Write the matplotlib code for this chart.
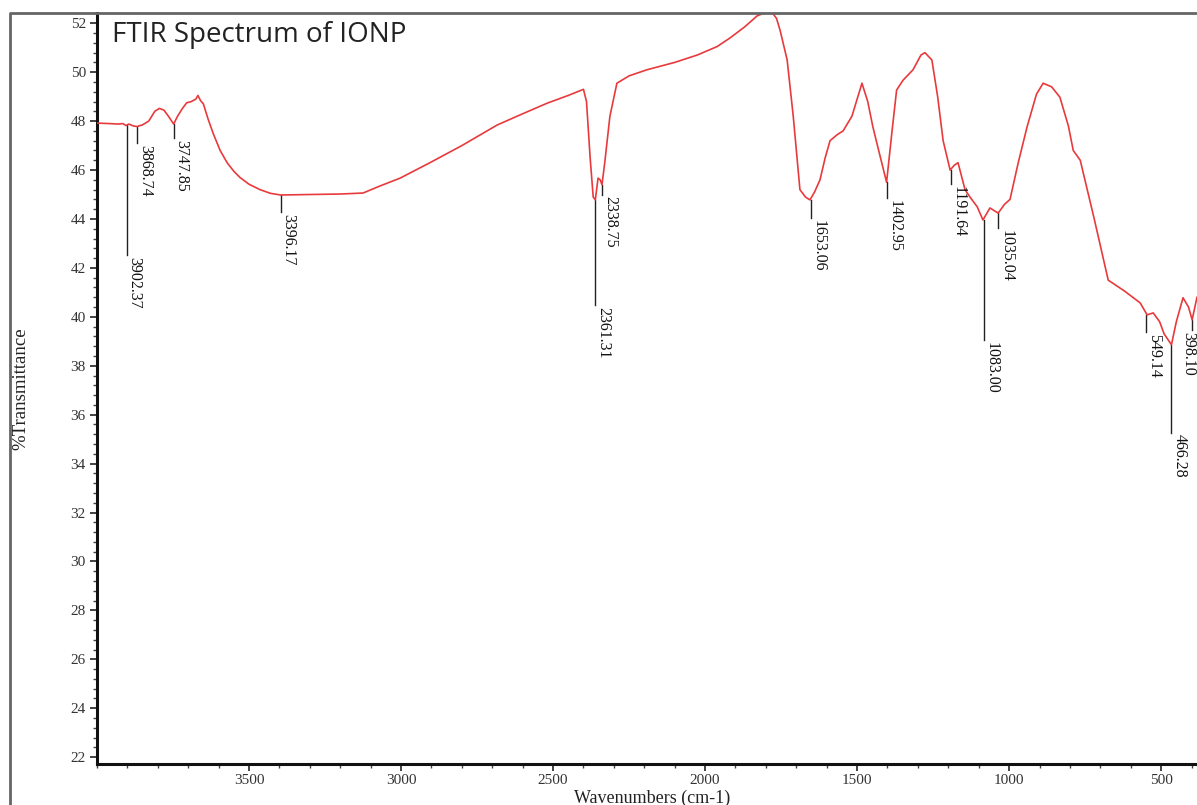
import matplotlib
matplotlib.use("Agg")
import matplotlib.pyplot as plt
from matplotlib.ticker import MultipleLocator
from matplotlib.lines import Line2D
from matplotlib.transforms import offset_copy

# ---- data ----
wavenumber = [4000, 3960, 3930, 3915, 3905, 3895, 3880, 3868, 3850, 3830, 3810, 3795,
              3780, 3765, 3748, 3735, 3720, 3705, 3690, 3675, 3668, 3660, 3650, 3635,
              3618, 3595, 3572, 3550, 3530, 3500, 3464, 3430, 3396, 3300, 3200, 3125,
              3069, 3003, 2905, 2800, 2684, 2600, 2520, 2450, 2400, 2390, 2378, 2368,
              2361, 2352, 2345, 2339, 2330, 2313, 2290, 2250, 2191, 2100, 2026, 1960,
              1918, 1870, 1829, 1800, 1780, 1765, 1753, 1730, 1710, 1688, 1670, 1655,
              1640, 1622, 1605, 1589, 1565, 1546, 1517, 1484, 1465, 1448, 1425, 1403,
              1385, 1370, 1349, 1316, 1290, 1277, 1254, 1235, 1217, 1194, 1180, 1168,
              1145, 1129, 1105, 1086, 1063, 1036, 1015, 997, 970, 941, 910, 888, 860,
              833, 805, 789, 766, 720, 674, 620, 569, 546, 526, 505, 490, 466, 450,
              428, 410, 398, 382]
transmittance = [47.92, 47.9, 47.88, 47.9, 47.82, 47.88, 47.8, 47.78, 47.85, 48.0, 48.4, 48.52,
                 48.45, 48.2, 47.88, 48.2, 48.5, 48.75, 48.8, 48.9, 49.05, 48.85, 48.7, 48.1,
                 47.5, 46.8, 46.3, 45.95, 45.7, 45.42, 45.2, 45.05, 44.98, 45.0, 45.02, 45.06,
                 45.35, 45.67, 46.3, 47.0, 47.84, 48.3, 48.73, 49.05, 49.3, 48.8, 46.5, 44.9,
                 44.78, 45.67, 45.6, 45.4, 46.3, 48.2, 49.55, 49.85, 50.1, 50.4, 50.7, 51.05,
                 51.4, 51.85, 52.3, 52.45, 52.45, 52.2, 51.7, 50.5, 48.2, 45.2, 44.9, 44.78,
                 45.1, 45.6, 46.5, 47.2, 47.45, 47.6, 48.2, 49.55, 48.8, 47.76, 46.6, 45.5,
                 47.6, 49.27, 49.67, 50.1, 50.7, 50.8, 50.5, 49.0, 47.2, 46.0, 46.2, 46.3,
                 45.2, 44.9, 44.5, 43.96, 44.45, 44.24, 44.6, 44.8, 46.3, 47.76, 49.1, 49.55, 49.4,
                 48.98, 47.8, 46.8, 46.4, 44.0, 41.5, 41.05, 40.57, 40.08, 40.16, 39.8, 39.3, 38.86, 39.8,
                 40.78, 40.4, 39.88, 40.8]

peak_positions = [3902.37, 3868.74, 3747.85, 3396.17, 2361.31, 2338.75, 1653.06,
                  1402.95, 1191.64, 1083.00, 1035.04, 549.14, 466.28, 398.10]
peak_labels = ["3902.37", "3868.74", "3747.85", "3396.17", "2361.31", "2338.75", "1653.06",
               "1402.95", "1191.64", "1083.00", "1035.04", "549.14", "466.28", "398.10"]
peak_tops = [47.84, 47.78, 47.88, 44.98, 44.78, 45.4, 44.78,
             45.5, 46.0, 43.96, 44.24, 40.08, 38.86, 39.88]
peak_bottoms = [42.53, 47.1, 47.3, 44.29, 40.49, 45.0, 44.04,
                44.86, 45.43, 39.06, 43.63, 39.39, 35.27, 39.47]

title_text = "FTIR Spectrum of IONP"
x_label = "Wavenumbers (cm-1)"
y_label = "%Transmittance"

# ---- figure ----
W, H = 1197, 805
fig = plt.figure(figsize=(W / 100, H / 100), dpi=100)
left_px, right_px, top_px, bottom_px = 97, 1197, 13, 764
ax = fig.add_axes([left_px / W, 1 - bottom_px / H,
                   (right_px - left_px) / W, (bottom_px - top_px) / H])

serif = ["Liberation Serif", "DejaVu Serif"]

ax.plot(wavenumber, transmittance, color="#e83a3c", lw=1.2, zorder=3)

last = len(peak_positions) - 1
for i, (pos, lab, top, bot) in enumerate(zip(peak_positions, peak_labels, peak_tops, peak_bottoms)):
    ax.plot([pos, pos], [top, bot], color="#222222", lw=1.0, zorder=2)
    if i == last:
        # label at the right edge sits just left of its line (as in the reference)
        tr = offset_copy(ax.transData, fig=fig, x=4, y=0, units="dots")
        ax.text(pos, bot - 0.08, lab, rotation=270, ha="right", va="top",
                fontsize=11.5, family=serif, color="#111111", transform=tr)
    else:
        ax.text(pos, bot - 0.08, lab, rotation=270, ha="left", va="top",
                fontsize=11.5, family=serif, color="#111111", clip_on=False)

ax.set_xlim(4000, 382)
ax.set_ylim(21.72, 52.42)

ax.set_xticks([3500, 3000, 2500, 2000, 1500, 1000, 500])
ax.xaxis.set_minor_locator(MultipleLocator(100))
ax.yaxis.set_major_locator(MultipleLocator(2))
ax.yaxis.set_minor_locator(MultipleLocator(0.4))

ax.tick_params(axis="both", which="major", direction="out", length=5, width=1.2,
               color="#222222", labelsize=11, pad=3)
ax.tick_params(axis="x", which="major", pad=2)
ax.tick_params(axis="both", which="minor", direction="out", length=3, width=1.0,
               color="#444444")
for lbl in ax.get_xticklabels() + ax.get_yticklabels():
    lbl.set_family(serif)
    lbl.set_color("#333333")

for side in ["top", "right"]:
    ax.spines[side].set_visible(False)
for side in ["left", "bottom"]:
    ax.spines[side].set_linewidth(2.2)
    ax.spines[side].set_color("#111111")

ax.set_xlabel(x_label, family=serif, fontsize=13, color="#222222")
ax.set_ylabel(y_label, family=serif, fontsize=13.5, color="#222222")
ax.xaxis.set_label_coords((652 - left_px) / (right_px - left_px), -(790 - bottom_px) / (bottom_px - top_px))
ax.yaxis.set_label_coords((29 - left_px) / (right_px - left_px), 0.5)

# outer frame (left and top lines)
fig.add_artist(Line2D([10 / W, 10 / W, 1.0], [0.0, 1 - top_px / H, 1 - top_px / H],
                      transform=fig.transFigure, color="#666666", lw=2.0))

fig.text(112 / W, 1 - 42 / H, title_text, fontsize=20, family=["Open Sans", "DejaVu Sans"],
         color="#222222", va="baseline", ha="left")

fig.savefig("out.png", dpi=100)
